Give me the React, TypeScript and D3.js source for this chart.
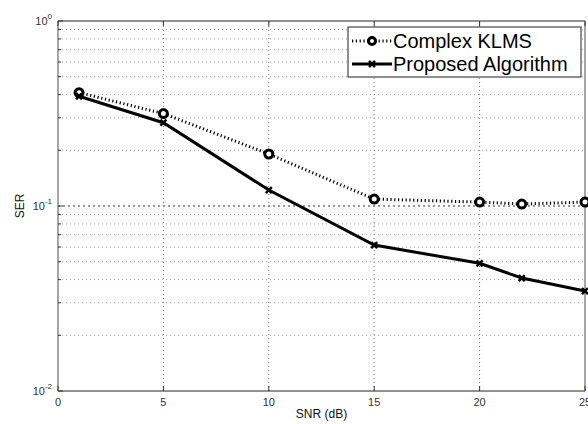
import React from 'react';
import * as d3 from 'd3';

// SNR values (dB) shared by both curves
const snr = [1, 5, 10, 15, 20, 22, 25];
const klmsSer = [0.41, 0.316, 0.191, 0.109, 0.105, 0.1025, 0.105];
const proposedSer = [0.392, 0.282, 0.122, 0.0615, 0.049, 0.0408, 0.0347];
const xTicks = [0, 5, 10, 15, 20, 25];
const yDecades = [-2, -1, 0];
const legendLabels = ['Complex KLMS', 'Proposed Algorithm'];

const W = 588;
const H = 424;
const margin = { top: 21, right: 3, bottom: 33, left: 58 };

const App = () => {
  const x = d3.scaleLinear().domain([0, 25]).range([margin.left, W - margin.right]);
  const y = d3.scaleLog().domain([0.01, 1]).range([H - margin.bottom, margin.top]);

  const minor: number[] = [];
  for (let e = -2; e < 0; e++) {
    for (let m = 2; m <= 9; m++) minor.push(m * Math.pow(10, e));
  }

  const line = d3.line<number>()
    .x((_, i) => x(snr[i]))
    .y(d => y(d));

  const font = '"Liberation Sans", Arial, Helvetica, sans-serif';
  const x0 = margin.left;
  const x1 = W - margin.right;
  const y0 = H - margin.bottom;
  const y1 = margin.top;

  // legend box
  const lg = { x: 348, y: 27, w: 233, h: 50 };

  return (
    <svg width={W} height={H} style={{ position: 'absolute', left: 0, top: 0, background: '#fff' }}>
      {/* minor grid */}
      {minor.map(v => (
        <line key={'m' + v} x1={x0} x2={x1} y1={y(v)} y2={y(v)}
          stroke="#a0a0a0" strokeWidth={1} strokeDasharray="1 3" />
      ))}
      {/* major grid */}
      {yDecades.slice(1, 2).map(e => (
        <line key={'M' + e} x1={x0} x2={x1} y1={y(Math.pow(10, e))} y2={y(Math.pow(10, e))}
          stroke="#333" strokeWidth={1} strokeDasharray="2 3" />
      ))}
      {xTicks.slice(1, -1).map(t => (
        <line key={'v' + t} x1={x(t)} x2={x(t)} y1={y0} y2={y1}
          stroke="#777" strokeWidth={1} strokeDasharray="1 3" />
      ))}

      {/* axes box */}
      <line x1={x0} x2={x1} y1={y1} y2={y1} stroke="#222" strokeWidth={1} />
      <line x1={x0} x2={x1} y1={y0} y2={y0} stroke="#222" strokeWidth={1} />
      <line x1={x0} x2={x0} y1={y0} y2={y1} stroke="#888" strokeWidth={1.5} />
      <line x1={x1} x2={x1} y1={y0} y2={y1} stroke="#888" strokeWidth={1.5} />

      {/* tick marks */}
      {xTicks.map(t => (
        <g key={'xt' + t}>
          <line x1={x(t)} x2={x(t)} y1={y0} y2={y0 - 5} stroke="#333" />
          <line x1={x(t)} x2={x(t)} y1={y1} y2={y1 + 5} stroke="#333" />
          <text x={x(t)} y={y0 + 15} textAnchor="middle" fontFamily={font} fontSize={11} fill="#333">{t}</text>
        </g>
      ))}
      {yDecades.map(e => (
        <g key={'yt' + e}>
          <line x1={x0} x2={x0 + 5} y1={y(Math.pow(10, e))} y2={y(Math.pow(10, e))} stroke="#333" />
          <text x={x0 - 6} y={y(Math.pow(10, e)) + 4} textAnchor="end" fontFamily={font} fontSize={11} fill="#333">
            10<tspan dy={-6} fontSize={8}>{e}</tspan>
          </text>
        </g>
      ))}
      {minor.map(v => (
        <line key={'mt' + v} x1={x0} x2={x0 + 3} y1={y(v)} y2={y(v)} stroke="#333" />
      ))}

      {/* axis labels */}
      <text x={x(12.5)} y={H - 6} textAnchor="middle" fontFamily={font} fontSize={12} fill="#111">SNR (dB)</text>
      <text transform={`translate(24,${(y0 + y1) / 2}) rotate(-90)`} textAnchor="middle" fontFamily={font} fontSize={12} fill="#111">SER</text>

      {/* curves */}
      <path d={line(klmsSer) ?? ''} fill="none" stroke="#000" strokeWidth={3} strokeDasharray="1.2 2.6" />
      <path d={line(proposedSer) ?? ''} fill="none" stroke="#000" strokeWidth={3} />
      {klmsSer.map((v, i) => (
        <circle key={'c' + i} cx={x(snr[i])} cy={y(v)} r={4} fill="#fff" stroke="#000" strokeWidth={3} />
      ))}
      {proposedSer.map((v, i) => {
        const cx = x(snr[i]);
        const cy = y(v);
        return (
          <path key={'x' + i} d={`M${cx - 3},${cy - 3}L${cx + 3},${cy + 3}M${cx - 3},${cy + 3}L${cx + 3},${cy - 3}`}
            stroke="#000" strokeWidth={2.5} />
        );
      })}

      {/* legend */}
      <rect x={lg.x} y={lg.y} width={lg.w} height={lg.h} fill="#fff" stroke="#222" strokeWidth={1} />
      {legendLabels.map((lab, i) => {
        const cy = lg.y + 14 + i * 23;
        return (
          <g key={lab}>
            {i === 0 ? (
              <>
                <line x1={lg.x + 4} x2={lg.x + 44} y1={cy} y2={cy} stroke="#000" strokeWidth={3} strokeDasharray="1.2 2.6" />
                <circle cx={lg.x + 24} cy={cy} r={3.5} fill="#fff" stroke="#000" strokeWidth={3} />
              </>
            ) : (
              <>
                <line x1={lg.x + 4} x2={lg.x + 44} y1={cy} y2={cy} stroke="#000" strokeWidth={3} />
                <path d={`M${lg.x + 21},${cy - 3}L${lg.x + 27},${cy + 3}M${lg.x + 21},${cy + 3}L${lg.x + 27},${cy - 3}`} stroke="#000" strokeWidth={2.5} />
              </>
            )}
            <text x={lg.x + 45} y={cy + 7} fontFamily={font} fontSize={20} fill="#000">{lab}</text>
          </g>
        );
      })}
    </svg>
  );
};

export default App;
